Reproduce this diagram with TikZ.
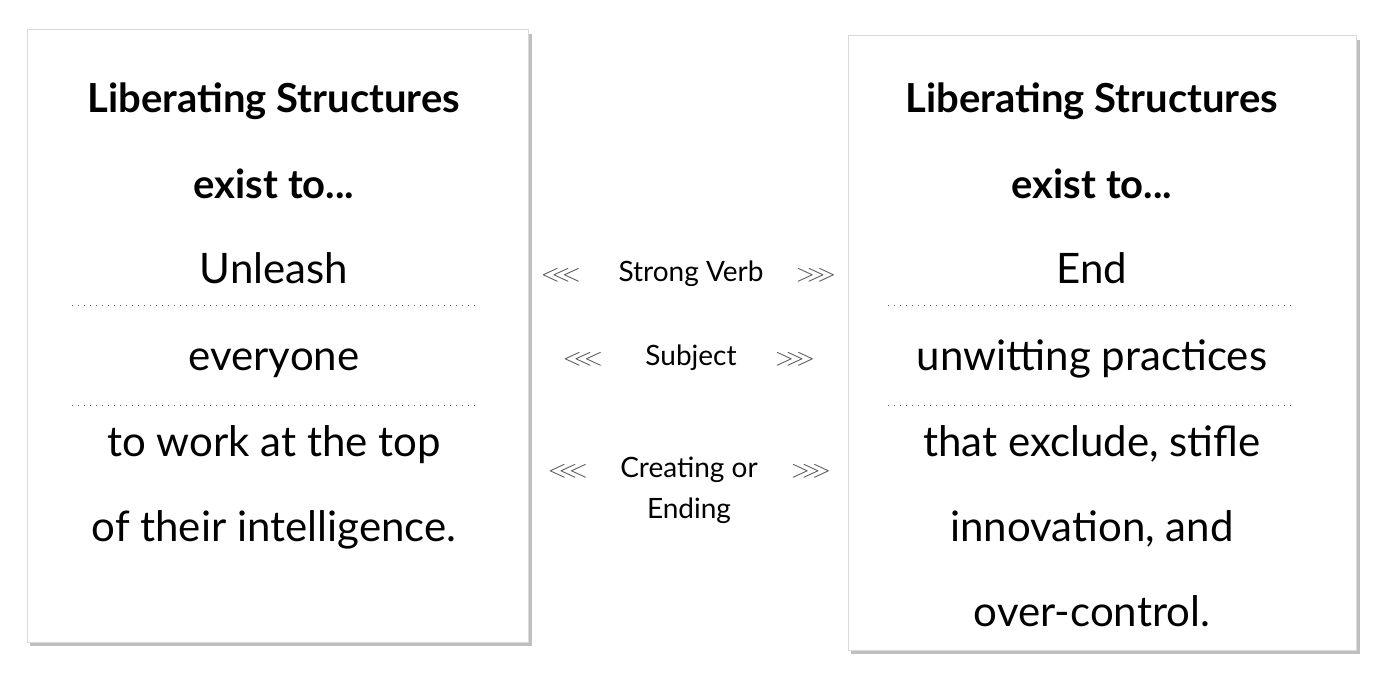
\documentclass[tikz,border=0pt]{standalone}
\usepackage{fontspec}
\setmainfont{Lato}
\newfontfamily\symf{DejaVu Sans}
\begin{document}
\begin{tikzpicture}[x=1pt,y=-1pt,
 box/.style={draw=black!15,fill=white,line width=1pt},
 shadow/.style={fill=black!25},
 ttl/.style={font=\fontsize{40}{48}\selectfont\bfseries,anchor=base},
 big/.style={font=\fontsize{42}{50}\selectfont,anchor=base},
 mid/.style={font=\fontsize{28}{34}\selectfont,anchor=base},
 arr/.style={font=\fontsize{28}{34}\selectfont\color{black!70},anchor=base},
 dots/.style={line width=1pt,dash pattern=on 1pt off 5pt,draw=black!60}]
\useasboundingbox (0,0) rectangle (1376,674);
% shadows and boxes
\fill[shadow] (30,34) rectangle (532,646);
\fill[shadow] (851,40) rectangle (1360,654);
\filldraw[box] (27,30) rectangle (528,642);
\filldraw[box] (848,36) rectangle (1356,650);
% left box
\node[ttl] (l1) at (274,113) {Liberating Structures};
\node[ttl] (l2) at (274,198) {exist to...};
\node[big] (l3) at (274,283) {Unleash};
\coordinate (ld1a) at (72,305); \coordinate (ld1b) at (478,305);
\draw[dots] (ld1a) -- (ld1b);
\node[big] (l4) at (274,370) {everyone};
\coordinate (ld2a) at (72,405); \coordinate (ld2b) at (478,405);
\draw[dots] (ld2a) -- (ld2b);
\node[big] (l5) at (274,456) {to work at the top};
\node[big] (l6) at (274,541) {of their intelligence.};
% right box
\node[ttl] (r1) at (1092,113) {Liberating Structures};
\node[ttl] (r2) at (1092,198) {exist to...};
\node[big] (r3) at (1092,283) {End};
\coordinate (rd1a) at (888,305); \coordinate (rd1b) at (1295,305);
\draw[dots] (rd1a) -- (rd1b);
\node[big] (r4) at (1092,370) {unwitting practices};
\coordinate (rd2a) at (888,405); \coordinate (rd2b) at (1295,405);
\draw[dots] (rd2a) -- (rd2b);
\node[big] (r5) at (1092,456) {that exclude, stifle};
\node[big] (r6) at (1092,541) {innovation, and};
\node[big] (r7) at (1092,626) {over-control.};
% middle
\node[mid] (m1) at (691,281) {Strong Verb};
\node[arr] (m1l) at (561,281) {$<\!\!<\!\!<$};
\node[arr] (m1r) at (816,281) {$>\!\!>\!\!>$};
\node[mid] (m2) at (691,365) {Subject};
\node[arr] (m2l) at (583,365) {$<\!\!<\!\!<$};
\node[arr] (m2r) at (795,365) {$>\!\!>\!\!>$};
\node[mid] (m3) at (689,477) {Creating or};
\node[arr] (m3l) at (568,477) {$<\!\!<\!\!<$};
\node[arr] (m3r) at (811,477) {$>\!\!>\!\!>$};
\node[mid] (m4) at (689,518) {Ending};
\end{tikzpicture}
\end{document}
